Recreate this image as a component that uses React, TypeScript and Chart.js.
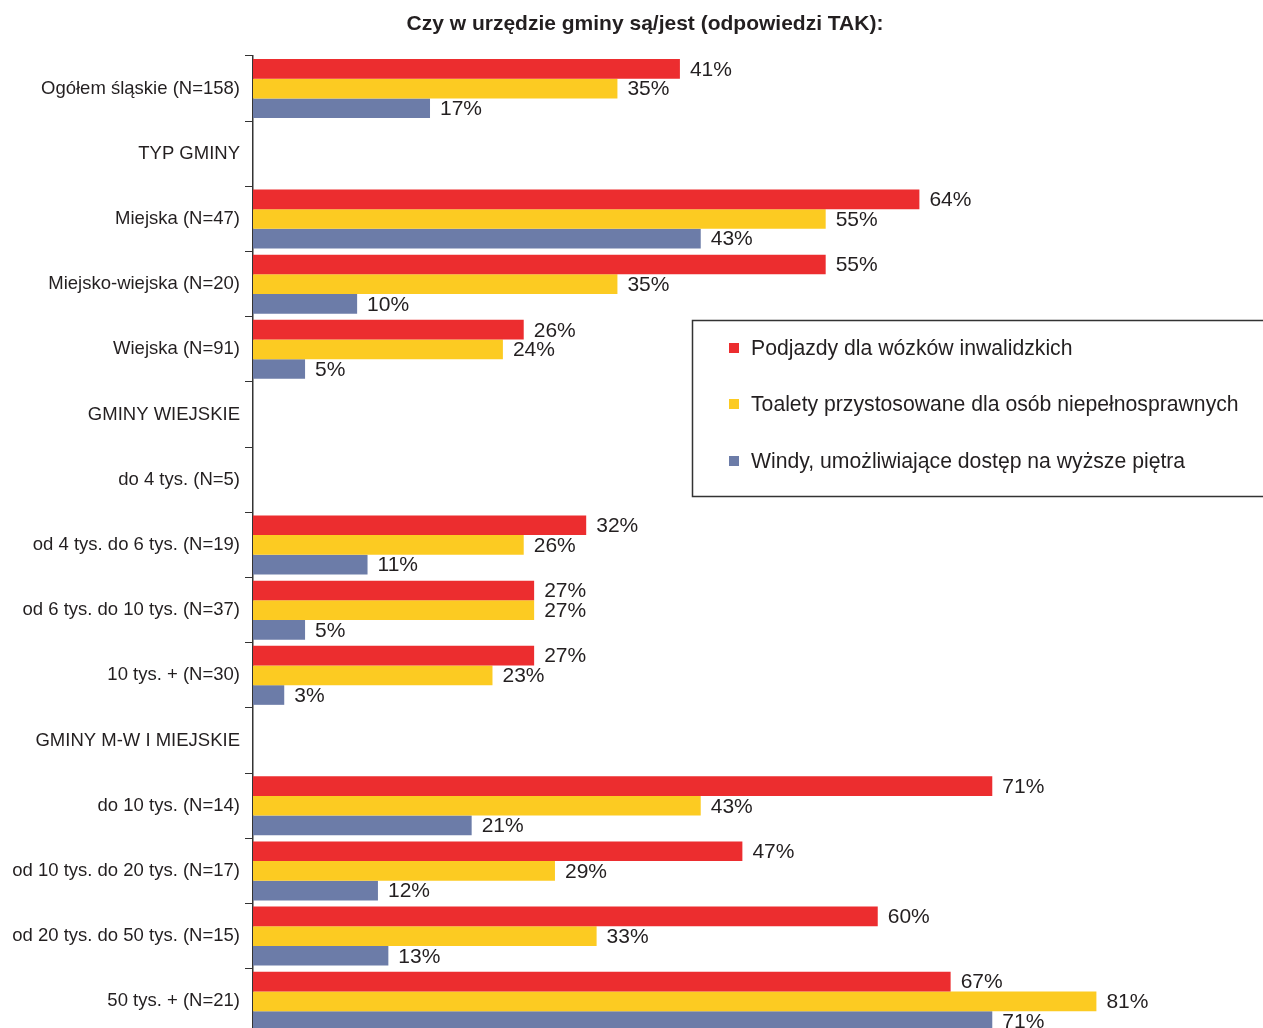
import React, { useEffect, useRef } from "react";
import { Chart, registerables } from "chart.js";

Chart.register(...registerables);

const categories = [
  "Ogółem śląskie (N=158)",
  "TYP GMINY",
  "Miejska (N=47)",
  "Miejsko-wiejska (N=20)",
  "Wiejska (N=91)",
  "GMINY WIEJSKIE",
  "do 4 tys. (N=5)",
  "od 4 tys. do 6 tys. (N=19)",
  "od 6 tys. do 10 tys. (N=37)",
  "10 tys. + (N=30)",
  "GMINY M-W I MIEJSKIE",
  "do 10 tys. (N=14)",
  "od 10 tys. do 20 tys. (N=17)",
  "od 20 tys. do 50 tys. (N=15)",
  "50 tys. + (N=21)",
];

const podjazdy = [41, null, 64, 55, 26, null, null, 32, 27, 27, null, 71, 47, 60, 67];
const toalety = [35, null, 55, 35, 24, null, null, 26, 27, 23, null, 43, 29, 33, 81];
const windy = [17, null, 43, 10, 5, null, null, 11, 5, 3, null, 21, 12, 13, 71];

const seriesNames = [
  "Podjazdy dla wózków inwalidzkich",
  "Toalety przystosowane dla osób niepełnosprawnych",
  "Windy, umożliwiające dostęp na wyższe piętra",
];
const colors = ["#EC2D2F", "#FCCB22", "#6C7CA8"];
const title = "Czy w urzędzie gminy są/jest (odpowiedzi TAK):";

const FONT = '"Liberation Sans", Arial, sans-serif';
const TEXT = "#231F20";

export default function App() {
  const ref = useRef<HTMLCanvasElement>(null);
  useEffect(() => {
    const canvas = ref.current!;
    const labelsPlugin = {
      id: "valueLabels",
      afterDatasetsDraw(chart: any) {
        const ctx = chart.ctx;
        ctx.save();
        ctx.font = `21px ${FONT}`;
        ctx.fillStyle = TEXT;
        ctx.textAlign = "left";
        ctx.textBaseline = "middle";
        chart.data.datasets.forEach((ds: any, i: number) => {
          const meta = chart.getDatasetMeta(i);
          meta.data.forEach((el: any, j: number) => {
            const v = ds.data[j];
            if (v == null) return;
            ctx.fillText(`${v}%`, el.x + 10, el.y + 1);
          });
        });
        ctx.restore();
      },
      afterDraw(chart: any) {
        const ctx = chart.ctx;
        ctx.save();
        // title
        ctx.font = `bold 21px ${FONT}`;
        ctx.fillStyle = TEXT;
        ctx.textAlign = "center";
        ctx.textBaseline = "middle";
        ctx.fillText(title, 645, 24);
        // legend box
        ctx.fillStyle = "#fff";
        ctx.fillRect(692, 320, 600, 176);
        ctx.strokeStyle = "#333";
        ctx.lineWidth = 1.5;
        ctx.strokeRect(692.5, 320.5, 600, 176);
        const rows = [348, 404, 461];
        ctx.font = `21.2px ${FONT}`;
        ctx.textAlign = "left";
        seriesNames.forEach((n, i) => {
          ctx.fillStyle = colors[i];
          ctx.fillRect(729, rows[i] - 5, 10, 10);
          ctx.fillStyle = TEXT;
          ctx.fillText(n, 751, rows[i] + 1);
        });
        ctx.restore();
      },
    };
    const chart = new Chart(canvas, {
      type: "bar",
      data: {
        labels: categories,
        datasets: [
          { label: seriesNames[0], data: podjazdy, backgroundColor: colors[0] },
          { label: seriesNames[1], data: toalety, backgroundColor: colors[1] },
          { label: seriesNames[2], data: windy, backgroundColor: colors[2] },
        ],
      },
      options: {
        indexAxis: "y",
        responsive: false,
        animation: false,
        devicePixelRatio: 1,
        layout: { padding: { top: 56, left: 0, right: 0, bottom: 0 } },
        datasets: {
          bar: { categoryPercentage: 0.905, barPercentage: 1.0 },
        } as any,
        plugins: {
          legend: { display: false },
          title: { display: false },
          tooltip: { enabled: false },
        },
        scales: {
          x: {
            display: false,
            min: 0,
            max: 97,
          },
          y: {
            afterFit(scale: any) {
              scale.width = 253;
            },
            grid: {
              drawOnChartArea: false,
              drawTicks: true,
              tickLength: 8,
              color: "#333",
              offset: true,
            },
            border: { display: true, color: "#333", width: 1.5 },
            ticks: {
              color: TEXT,
              padding: 5,
              font: { family: FONT, size: 18.5 },
            },
          },
        },
      },
      plugins: [labelsPlugin],
    });
    return () => chart.destroy();
  }, []);
  return (
    <div
      style={{
        position: "fixed",
        left: 0,
        top: 0,
        width: 1263,
        height: 1028,
        overflow: "hidden",
        background: "#fff",
      }}
    >
      <canvas ref={ref} width={1263} height={1050} style={{ display: "block" }} />
    </div>
  );
}
